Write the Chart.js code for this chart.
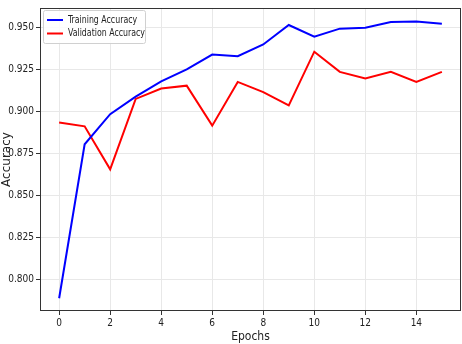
<!DOCTYPE html>
<html>
<head>
<meta charset="utf-8">
<script src="https://cdn.jsdelivr.net/npm/chart.js@4"></script>
<style>
  html, body { margin: 0; padding: 0; background: #fff; }
  #wrap { width: 462px; height: 344px; }
</style>
</head>
<body>
<div id="wrap"><canvas id="accChart" width="462" height="344"></canvas></div>
<script>
const epochs = [0, 1, 2, 3, 4, 5, 6, 7, 8, 9, 10, 11, 12, 13, 14, 15];
const trainAcc = [0.789, 0.8806, 0.8985, 0.909, 0.918, 0.9252, 0.934, 0.933, 0.940, 0.9516, 0.9446, 0.9494, 0.950, 0.9533, 0.9537, 0.9523];
const valAcc = [0.8936, 0.8913, 0.8657, 0.9076, 0.9138, 0.9155, 0.8917, 0.9177, 0.9116, 0.9037, 0.9357, 0.9237, 0.9198, 0.9237, 0.9177, 0.9237];
const xTicks = [0, 2, 4, 6, 8, 10, 12, 14];
const yTicks = [0.800, 0.825, 0.850, 0.875, 0.900, 0.925, 0.950];

const FONT = "'Liberation Sans Narrow', 'DejaVu Sans Condensed', sans-serif";

// cadre autour de la zone du graphique + légende à l'intérieur
const framePlugin = {
  id: "frame",
  afterDraw(chart) {
    const { ctx, chartArea: a } = chart;
    ctx.save();
    ctx.strokeStyle = "#333";
    ctx.lineWidth = 1;
    ctx.strokeRect(a.left + 0.5, a.top + 0.5, a.right - a.left - 1, a.bottom - a.top - 1);

    // légende
    const items = chart.data.datasets;
    const x0 = a.left + 3, y0 = a.top + 2;
    ctx.font = "10px " + FONT;
    let w = 0;
    items.forEach(d => { w = Math.max(w, ctx.measureText(d.label).width); });
    const sx = 77 / w; // texte plus étroit, comme l'original
    const bw = 102, bh = 33;
    ctx.fillStyle = "rgba(255,255,255,0.85)";
    ctx.strokeStyle = "#d0d0d0";
    ctx.beginPath();
    ctx.roundRect(x0 + 0.5, y0 + 0.5, bw, bh, 2);
    ctx.fill();
    ctx.stroke();
    items.forEach((d, i) => {
      const cy = y0 + 10 + i * 13.5;
      ctx.strokeStyle = d.borderColor;
      ctx.lineWidth = 2;
      ctx.beginPath();
      ctx.moveTo(x0 + 4, cy);
      ctx.lineTo(x0 + 20, cy);
      ctx.stroke();
      ctx.save();
      ctx.translate(x0 + 25, cy);
      ctx.scale(Math.min(1, sx), 1);
      ctx.fillStyle = "#222";
      ctx.textBaseline = "middle";
      ctx.fillText(d.label, 0, 0);
      ctx.restore();
    });
    ctx.restore();
  }
};

const ctx = document.getElementById("accChart").getContext("2d");
const accChart = new Chart(ctx, {
  type: "line",
  data: {
    labels: epochs,
    datasets: [
      {
        label: "Training Accuracy",
        data: epochs.map((e, i) => ({ x: e, y: trainAcc[i] })),
        borderColor: "#0000ff",
        borderWidth: 2,
        pointRadius: 0,
        tension: 0
      },
      {
        label: "Validation Accuracy",
        data: epochs.map((e, i) => ({ x: e, y: valAcc[i] })),
        borderColor: "#ff0000",
        borderWidth: 2,
        pointRadius: 0,
        tension: 0
      }
    ]
  },
  options: {
    responsive: false,
    animation: false,
    layout: { padding: { top: 3, right: 1, left: 0, bottom: 0 } },
    plugins: {
      legend: { display: false },
      tooltip: { enabled: false }
    },
    scales: {
      x: {
        type: "linear",
        min: -0.75,
        max: 15.75,
        afterBuildTicks: s => { s.ticks = xTicks.map(v => ({ value: v })); },
        afterFit: s => { s.height = 33; },
        grid: { color: "#e8e8e8", tickColor: "#333", tickLength: 4 },
        border: { display: false },
        ticks: { color: "#222", font: { family: FONT, size: 10 }, padding: 2, maxRotation: 0 },
        title: { display: true, text: "Epochs", color: "#222", font: { family: FONT, size: 12 }, padding: { top: 1, bottom: 0 } }
      },
      y: {
        min: 0.7814,
        max: 0.9617,
        afterBuildTicks: s => { s.ticks = yTicks.map(v => ({ value: v })); },
        afterFit: s => { s.width = 40; },
        grid: { color: "#e8e8e8", tickColor: "#333", tickLength: 4 },
        border: { display: false },
        ticks: {
          color: "#222",
          font: { family: FONT, size: 10 },
          padding: 2,
          callback: v => v.toFixed(3)
        },
        title: { display: true, text: "Accuracy", color: "#222", font: { family: "'DejaVu Sans', sans-serif", size: 12 }, padding: { top: 0, bottom: 0 } }
      }
    }
  },
  plugins: [framePlugin]
});
</script>
</body>
</html>
